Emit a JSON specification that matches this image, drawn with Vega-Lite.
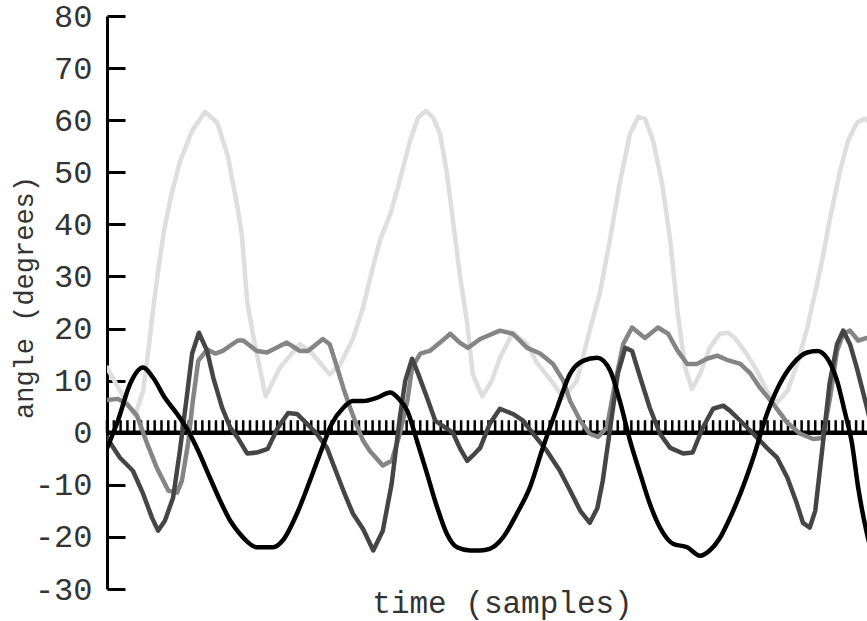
{
  "$schema": "https://vega.github.io/schema/vega-lite/v6.json",
  "width": 760,
  "height": 573,
  "autosize": {"type": "none"},
  "padding": {"left": 107, "top": 16, "right": 0, "bottom": 32},
  "background": "white",
  "config": {
    "view": {"stroke": null},
    "font": "Liberation Mono",
    "axisX": {"title": "time (samples)", "domain": false, "ticks": false, "labels": false, "grid": false,
              "titleFont": "Liberation Mono", "titleFontSize": 31, "titleFontWeight": "normal", "titleColor": "#333",
              "titlePadding": -1, "titleX": 395},
    "axisY": {"values": [-30, -20, -10, 0, 10, 20, 30, 40, 50, 60, 70, 80], "grid": false,
              "domainWidth": 3, "domainColor": "black", "tickWidth": 3, "tickColor": "black", "tickSize": -18,
              "labelPadding": 33, "labelFont": "Liberation Mono", "labelFontSize": 32, "labelColor": "#333",
              "labelExpr": "'' + datum.value",
              "titleFont": "Liberation Mono", "titleFontSize": 27, "titleFontWeight": "normal", "titleColor": "#333",
              "titleX": -83, "titleY": 281, "titleBaseline": "middle", "titleAngle": 270}
  },
  "datasets": {
    "ticks": [
      {"t":0},{"t":1},{"t":2},{"t":3},{"t":4},{"t":5},{"t":6},{"t":7},{"t":8},{"t":9},
      {"t":10},{"t":11},{"t":12},{"t":13},{"t":14},{"t":15},{"t":16},{"t":17},{"t":18},{"t":19},
      {"t":20},{"t":21},{"t":22},{"t":23},{"t":24},{"t":25},{"t":26},{"t":27},{"t":28},{"t":29},
      {"t":30},{"t":31},{"t":32},{"t":33},{"t":34},{"t":35},{"t":36},{"t":37},{"t":38},{"t":39},
      {"t":40},{"t":41},{"t":42},{"t":43},{"t":44},{"t":45},{"t":46},{"t":47},{"t":48},{"t":49},
      {"t":50},{"t":51},{"t":52},{"t":53},{"t":54},{"t":55},{"t":56},{"t":57},{"t":58},{"t":59},
      {"t":60},{"t":61},{"t":62},{"t":63},{"t":64},{"t":65},{"t":66},{"t":67},{"t":68},{"t":69},
      {"t":70},{"t":71},{"t":72},{"t":73},{"t":74},{"t":75},{"t":76},{"t":77},{"t":78},{"t":79},
      {"t":80},{"t":81},{"t":82},{"t":83},{"t":84},{"t":85},{"t":86},{"t":87},{"t":88},{"t":89},
      {"t":90},{"t":91},{"t":92},{"t":93},{"t":94},{"t":95},{"t":96},{"t":97},{"t":98},{"t":99},
      {"t":100},{"t":101},{"t":102},{"t":103},{"t":104},{"t":105},{"t":106},{"t":107},{"t":108},{"t":109},
      {"t":110},{"t":111}
    ],
    "lines": [
      {"s":"a","t":0,"v":12.5},{"s":"a","t":1.5,"v":9},{"s":"a","t":4.1,"v":3.3},{"s":"a","t":5.3,"v":8},
      {"s":"a","t":6.0,"v":15},{"s":"a","t":6.8,"v":24},{"s":"a","t":7.6,"v":32},{"s":"a","t":8.4,"v":39},{"s":"a","t":9.5,"v":46},
      {"s":"a","t":10.7,"v":52},{"s":"a","t":12.5,"v":58},{"s":"a","t":14.4,"v":61.6},{"s":"a","t":16.2,"v":59.5},
      {"s":"a","t":17.8,"v":52.8},{"s":"a","t":19.2,"v":43},{"s":"a","t":19.8,"v":38},{"s":"a","t":20.6,"v":25},
      {"s":"a","t":21.7,"v":17},{"s":"a","t":23.3,"v":7},{"s":"a","t":25.4,"v":12.5},{"s":"a","t":28.3,"v":17},
      {"s":"a","t":29.8,"v":15.7},{"s":"a","t":32.7,"v":11.2},{"s":"a","t":34.2,"v":13},{"s":"a","t":36.1,"v":18},
      {"s":"a","t":37.6,"v":24},{"s":"a","t":38.9,"v":31},{"s":"a","t":40.1,"v":37},{"s":"a","t":41.6,"v":42},
      {"s":"a","t":42.7,"v":47},{"s":"a","t":44.5,"v":56},{"s":"a","t":45.7,"v":60.5},{"s":"a","t":46.8,"v":61.8},
      {"s":"a","t":47.9,"v":60.5},{"s":"a","t":48.9,"v":57.4},{"s":"a","t":49.9,"v":50},{"s":"a","t":50.8,"v":40.7},
      {"s":"a","t":51.8,"v":30.5},{"s":"a","t":52.9,"v":21},{"s":"a","t":53.7,"v":11.3},{"s":"a","t":55.1,"v":7},
      {"s":"a","t":56.5,"v":10},{"s":"a","t":57.7,"v":14.4},{"s":"a","t":59.6,"v":19.2},{"s":"a","t":61.7,"v":17},
      {"s":"a","t":63.1,"v":13.5},{"s":"a","t":65.5,"v":9.5},{"s":"a","t":67.0,"v":6.7},{"s":"a","t":69.0,"v":10},
      {"s":"a","t":70.5,"v":17.7},{"s":"a","t":72.4,"v":27},{"s":"a","t":73.9,"v":37.4},{"s":"a","t":75.3,"v":48},
      {"s":"a","t":76.8,"v":57.4},{"s":"a","t":78.0,"v":60.6},{"s":"a","t":79.0,"v":60.3},{"s":"a","t":80.2,"v":56},
      {"s":"a","t":81.5,"v":48},{"s":"a","t":82.7,"v":37},{"s":"a","t":83.8,"v":23},{"s":"a","t":84.9,"v":12.5},
      {"s":"a","t":85.9,"v":8.4},{"s":"a","t":87.1,"v":11.3},{"s":"a","t":88.5,"v":16.3},{"s":"a","t":90.0,"v":19},
      {"s":"a","t":91.2,"v":19.2},{"s":"a","t":92.2,"v":18.2},{"s":"a","t":94.0,"v":15},{"s":"a","t":95.4,"v":12},
      {"s":"a","t":96.9,"v":8},{"s":"a","t":98.4,"v":5.8},{"s":"a","t":99.9,"v":8},{"s":"a","t":101.3,"v":13},
      {"s":"a","t":102.8,"v":20},{"s":"a","t":104.0,"v":27},{"s":"a","t":105.0,"v":33},{"s":"a","t":106.1,"v":40.7},
      {"s":"a","t":107.6,"v":50},{"s":"a","t":108.8,"v":56},{"s":"a","t":110.1,"v":59.5},{"s":"a","t":111.3,"v":60.3},
      {"s":"a","t":112.5,"v":59},

      {"s":"b","t":0,"v":6.3},{"s":"b","t":1.6,"v":6.5},{"s":"b","t":2.9,"v":5.5},{"s":"b","t":4.4,"v":3.3},
      {"s":"b","t":5.9,"v":-2.1},{"s":"b","t":7.3,"v":-6.7},{"s":"b","t":9.0,"v":-11.1},{"s":"b","t":10.3,"v":-11.5},
      {"s":"b","t":11.0,"v":-9.2},{"s":"b","t":11.9,"v":-2.1},{"s":"b","t":12.6,"v":6.1},{"s":"b","t":13.4,"v":13.8},
      {"s":"b","t":14.7,"v":16},{"s":"b","t":15.9,"v":15.2},{"s":"b","t":17.0,"v":15.7},{"s":"b","t":19.2,"v":17.7},
      {"s":"b","t":20.0,"v":17.7},{"s":"b","t":22.0,"v":15.7},{"s":"b","t":23.5,"v":15.4},{"s":"b","t":26.4,"v":17.3},
      {"s":"b","t":28.3,"v":15.7},{"s":"b","t":29.5,"v":15.7},{"s":"b","t":31.7,"v":18},{"s":"b","t":32.7,"v":17},
      {"s":"b","t":33.8,"v":12.5},{"s":"b","t":34.7,"v":8.6},{"s":"b","t":35.7,"v":4.8},{"s":"b","t":36.5,"v":2},
      {"s":"b","t":37.6,"v":-1.5},{"s":"b","t":38.6,"v":-3.5},{"s":"b","t":40.5,"v":-6.3},{"s":"b","t":41.8,"v":-5.4},
      {"s":"b","t":43.0,"v":-0.2},{"s":"b","t":44.1,"v":6.1},{"s":"b","t":44.8,"v":12.5},{"s":"b","t":46.0,"v":15.2},
      {"s":"b","t":47.4,"v":15.7},{"s":"b","t":48.9,"v":17.3},{"s":"b","t":50.4,"v":19},{"s":"b","t":51.8,"v":17.3},
      {"s":"b","t":53.0,"v":16.3},{"s":"b","t":54.8,"v":18},{"s":"b","t":57.7,"v":19.6},{"s":"b","t":59.6,"v":19},
      {"s":"b","t":61.7,"v":16.3},{"s":"b","t":63.6,"v":15.2},{"s":"b","t":65.5,"v":13.2},{"s":"b","t":67.0,"v":10},
      {"s":"b","t":68.0,"v":6.1},{"s":"b","t":69.5,"v":2.3},{"s":"b","t":70.9,"v":-0.2},{"s":"b","t":72.1,"v":-0.8},
      {"s":"b","t":73.4,"v":1},{"s":"b","t":74.6,"v":9.4},{"s":"b","t":75.8,"v":17},{"s":"b","t":77.1,"v":20.2},
      {"s":"b","t":79.0,"v":18.2},{"s":"b","t":80.9,"v":20.2},{"s":"b","t":82.4,"v":19},{"s":"b","t":83.8,"v":15.7},
      {"s":"b","t":85.2,"v":13.2},{"s":"b","t":86.6,"v":13.2},{"s":"b","t":88.1,"v":14.2},{"s":"b","t":89.6,"v":14.8},
      {"s":"b","t":91.0,"v":14},{"s":"b","t":93.0,"v":13.2},{"s":"b","t":94.4,"v":11.5},{"s":"b","t":95.9,"v":8.6},
      {"s":"b","t":97.8,"v":5.6},{"s":"b","t":99.9,"v":1.9},{"s":"b","t":101.8,"v":-0.2},{"s":"b","t":103.7,"v":-1.2},
      {"s":"b","t":105.1,"v":-1},{"s":"b","t":106.1,"v":6.1},{"s":"b","t":107.2,"v":15.7},{"s":"b","t":108.1,"v":19},
      {"s":"b","t":109.1,"v":19.6},{"s":"b","t":110.3,"v":17.7},{"s":"b","t":111.6,"v":18.2},{"s":"b","t":113,"v":18.5},

      {"s":"c","t":0,"v":-1},{"s":"c","t":1.9,"v":-4.8},{"s":"c","t":3.8,"v":-7.3},{"s":"c","t":5.3,"v":-11.7},
      {"s":"c","t":6.6,"v":-16.3},{"s":"c","t":7.5,"v":-18.8},{"s":"c","t":8.5,"v":-16.9},{"s":"c","t":9.7,"v":-12.5},
      {"s":"c","t":10.7,"v":-3.5},{"s":"c","t":11.7,"v":6.7},{"s":"c","t":12.5,"v":15.2},{"s":"c","t":13.5,"v":19.2},
      {"s":"c","t":14.7,"v":15.7},{"s":"c","t":15.6,"v":10.6},{"s":"c","t":16.9,"v":4.8},{"s":"c","t":18.1,"v":1},
      {"s":"c","t":19.2,"v":-1},{"s":"c","t":20.6,"v":-4},{"s":"c","t":22.0,"v":-3.8},{"s":"c","t":23.6,"v":-3.1},
      {"s":"c","t":25.1,"v":1},{"s":"c","t":26.6,"v":3.8},{"s":"c","t":27.9,"v":3.6},{"s":"c","t":29.4,"v":1.7},
      {"s":"c","t":30.8,"v":-0.2},{"s":"c","t":32.3,"v":-2.9},{"s":"c","t":33.2,"v":-6},{"s":"c","t":34.7,"v":-11.1},
      {"s":"c","t":36.1,"v":-15.5},{"s":"c","t":37.6,"v":-18.5},{"s":"c","t":39.1,"v":-22.6},{"s":"c","t":40.5,"v":-18.8},
      {"s":"c","t":41.8,"v":-9.8},{"s":"c","t":43.0,"v":2.9},{"s":"c","t":43.8,"v":10},{"s":"c","t":44.8,"v":14.2},
      {"s":"c","t":45.7,"v":11.3},{"s":"c","t":47.0,"v":6.7},{"s":"c","t":48.2,"v":2.3},{"s":"c","t":49.9,"v":0.8},
      {"s":"c","t":50.8,"v":0},{"s":"c","t":51.8,"v":-2.9},{"s":"c","t":52.9,"v":-5.4},{"s":"c","t":54.0,"v":-4},
      {"s":"c","t":54.8,"v":-2.9},{"s":"c","t":56.2,"v":1.7},{"s":"c","t":57.7,"v":4.6},{"s":"c","t":59.6,"v":3.6},
      {"s":"c","t":61.1,"v":2.3},{"s":"c","t":62.6,"v":-0.2},{"s":"c","t":64.6,"v":-3.5},{"s":"c","t":66.5,"v":-7.3},
      {"s":"c","t":68.0,"v":-11.1},{"s":"c","t":69.5,"v":-15},{"s":"c","t":70.9,"v":-17.3},{"s":"c","t":72.0,"v":-14.5},
      {"s":"c","t":72.8,"v":-9.2},{"s":"c","t":73.9,"v":1},{"s":"c","t":75.0,"v":11.3},{"s":"c","t":76.1,"v":16.3},
      {"s":"c","t":77.1,"v":15.7},{"s":"c","t":78.3,"v":10.6},{"s":"c","t":79.7,"v":4.8},{"s":"c","t":81.2,"v":-0.2},
      {"s":"c","t":82.7,"v":-2.9},{"s":"c","t":84.6,"v":-4},{"s":"c","t":86.0,"v":-3.8},{"s":"c","t":87.5,"v":1},
      {"s":"c","t":89.0,"v":4.6},{"s":"c","t":90.5,"v":5.2},{"s":"c","t":91.5,"v":4.2},{"s":"c","t":93.0,"v":2.3},
      {"s":"c","t":94.9,"v":-0.2},{"s":"c","t":96.9,"v":-2.9},{"s":"c","t":98.4,"v":-4.8},{"s":"c","t":99.9,"v":-8.6},
      {"s":"c","t":101.3,"v":-13.6},{"s":"c","t":102.2,"v":-17.3},{"s":"c","t":103.2,"v":-18.2},{"s":"c","t":104.0,"v":-15},
      {"s":"c","t":105.0,"v":-3.5},{"s":"c","t":106.1,"v":9.4},{"s":"c","t":107.2,"v":17},{"s":"c","t":108.1,"v":19.6},
      {"s":"c","t":109.1,"v":17},{"s":"c","t":110.1,"v":12.5},{"s":"c","t":111.6,"v":4.8},{"s":"c","t":113,"v":-3}
    ],
    "black": [
      {"t":0,"v":-3},{"t":1.6,"v":2.3},{"t":3.4,"v":9.4},{"t":5.3,"v":12.5},
      {"t":6.75,"v":10.6},{"t":8.5,"v":6.7},{"t":10.3,"v":3.6},{"t":11.9,"v":0.4},
      {"t":13.4,"v":-3.5},{"t":15.1,"v":-8.6},{"t":16.6,"v":-13},{"t":18.1,"v":-16.9},
      {"t":19.5,"v":-19.4},{"t":20.5,"v":-20.8},{"t":22.0,"v":-22},{"t":24.4,"v":-22},
      {"t":25.8,"v":-20.7},{"t":27.9,"v":-15.5},{"t":29.8,"v":-9.2},{"t":31.6,"v":-2.9},
      {"t":33.0,"v":1.7},{"t":34.7,"v":4.8},{"t":36.1,"v":6.1},{"t":37.6,"v":6.1},
      {"t":39.6,"v":6.7},{"t":41.6,"v":7.7},{"t":42.7,"v":6.7},{"t":44.1,"v":4.2},
      {"t":45.5,"v":-1.5},{"t":47.0,"v":-7.9},{"t":48.5,"v":-14.4},{"t":49.9,"v":-19.4},
      {"t":51.4,"v":-22},{"t":53.3,"v":-22.6},{"t":54.8,"v":-22.6},{"t":56.2,"v":-22.3},
      {"t":58.1,"v":-20.2},{"t":60.2,"v":-15.5},{"t":62.1,"v":-10.5},{"t":64.0,"v":-2.9},
      {"t":66.1,"v":4.8},{"t":68.0,"v":11.3},{"t":69.9,"v":13.8},{"t":72.0,"v":14.4},
      {"t":73.9,"v":11.9},{"t":75.3,"v":6.1},{"t":76.8,"v":-1.5},{"t":78.3,"v":-7.9},
      {"t":79.7,"v":-13.6},{"t":81.2,"v":-18.2},{"t":83.1,"v":-21.3},{"t":85.2,"v":-22},
      {"t":87.1,"v":-23.6},{"t":88.5,"v":-22.6},{"t":90.0,"v":-20.2},{"t":91.5,"v":-16.3},
      {"t":93.0,"v":-11.7},{"t":94.9,"v":-4.8},{"t":96.9,"v":3.6},{"t":98.8,"v":9.4},
      {"t":100.7,"v":13.2},{"t":102.8,"v":15.4},{"t":104.3,"v":15.7},{"t":105.7,"v":14.4},
      {"t":107.2,"v":10},{"t":108.3,"v":4.2},{"t":109.4,"v":-2.1},{"t":110.3,"v":-10.5},
      {"t":111.6,"v":-19.4},{"t":113,"v":-26}
    ]
  },
  "encoding": {
    "x": {"type": "quantitative", "scale": {"domain": [0, 111.6], "nice": false, "zero": false}, "title": "time (samples)"},
    "y": {"type": "quantitative", "scale": {"domain": [-30, 80], "nice": false}, "title": "angle (degrees)"}
  },
  "layer": [
    {
      "data": {"name": "ticks"},
      "mark": {"type": "rule", "color": "black", "strokeWidth": 2.5},
      "encoding": {
        "x": {"field": "t", "type": "quantitative", "title": "time (samples)"},
        "y": {"datum": 0, "type": "quantitative", "title": "angle (degrees)"},
        "y2": {"datum": 2.4}
      }
    },
    {
      "data": {"values": [{"z": 0}]},
      "mark": {"type": "rule", "color": "black", "strokeWidth": 4.5},
      "encoding": {
        "y": {"field": "z", "type": "quantitative", "title": "angle (degrees)"}
      }
    },
    {
      "data": {"name": "lines"},
      "mark": {"type": "line", "clip": true, "strokeWidth": 4.5, "strokeJoin": "round", "strokeCap": "round"},
      "encoding": {
        "x": {"field": "t", "type": "quantitative", "title": "time (samples)"},
        "y": {"field": "v", "type": "quantitative", "title": "angle (degrees)"},
        "color": {
          "field": "s", "type": "nominal", "legend": null,
          "scale": {"domain": ["a", "b", "c"], "range": ["#dedede", "#858585", "#454545"]}
        }
      }
    },
    {
      "data": {"name": "black"},
      "mark": {"type": "line", "clip": true, "strokeWidth": 4.5, "color": "black", "interpolate": "monotone", "strokeJoin": "round", "strokeCap": "round"},
      "encoding": {
        "x": {"field": "t", "type": "quantitative", "title": "time (samples)"},
        "y": {"field": "v", "type": "quantitative", "title": "angle (degrees)"}
      }
    }
  ]
}
